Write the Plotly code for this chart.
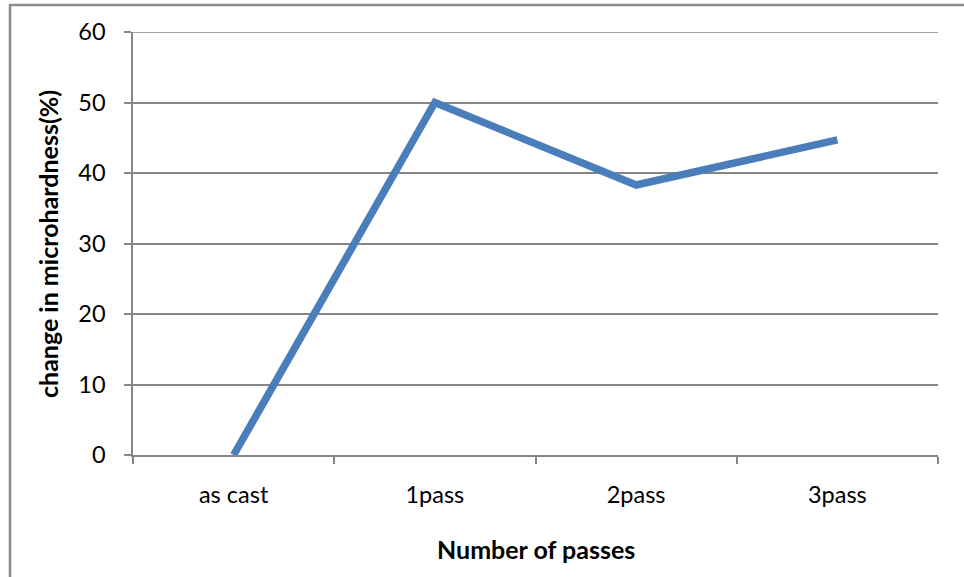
import plotly.graph_objects as go

# Microhardness change by number of passes
categories = ["as cast", "1pass", "2pass", "3pass"]
hardness_change = [0, 50, 38.3, 44.7]
y_ticks = [0, 10, 20, 30, 40, 50, 60]

W, H = 964, 577
L, R, T, B = 133, 26, 32, 122
pw, ph = W - L - R, H - T - B

def px_x(x):
    return (x - L) / pw

def px_y(y):
    return (H - B - y) / ph

font_family = "Lato, Open Sans, sans-serif"
grey = "#868686"

fig = go.Figure()
fig.add_trace(go.Scatter(
    x=categories,
    y=hardness_change,
    mode="lines",
    line=dict(color="#4A7EBB", width=7.5),
    showlegend=False,
    cliponaxis=False,
))

fig.update_layout(
    width=W, height=H,
    margin=dict(l=L, r=R, t=T, b=B),
    paper_bgcolor="white",
    plot_bgcolor="white",
    font=dict(family=font_family, color="#000000"),
    xaxis=dict(
        type="category",
        range=[-0.5, 3.5],
        showgrid=False,
        showline=True, linecolor=grey, linewidth=1.5,
        ticks="outside", tickson="boundaries", ticklen=7, tickcolor=grey, tickwidth=1.5,
        tickfont=dict(size=23.5, family=font_family),
        ticklabelstandoff=18,
        zeroline=False,
    ),
    yaxis=dict(
        range=[0, 60],
        tickvals=y_ticks,
        showgrid=True, gridcolor=grey, gridwidth=1.5,
        showline=True, linecolor=grey, linewidth=1.5,
        ticks="outside", ticklen=7, tickcolor=grey, tickwidth=1.5,
        tickfont=dict(size=23.5, family=font_family),
        ticklabelstandoff=14,
        zeroline=False,
    ),
    shapes=[
        # top gridline at 60
        dict(type="line", xref="paper", yref="y",
             x0=0, x1=1, y0=60, y1=60, line=dict(color=grey, width=1.5)),
        # outer chart border
        dict(type="rect", xref="paper", yref="paper",
             x0=px_x(10), x1=px_x(980), y0=px_y(595), y1=px_y(5),
             line=dict(color="#8c8c8c", width=2.5), fillcolor="rgba(0,0,0,0)"),
    ],
    annotations=[
        dict(text="<b>change in microhardness(%)</b>", xref="paper", yref="paper",
             x=px_x(48), y=px_y(244), textangle=-90, showarrow=False,
             font=dict(size=25, family=font_family), xanchor="center", yanchor="middle"),
        dict(text="<b>Number of passes</b>", xref="paper", yref="paper",
             x=px_x(536), y=px_y(549), showarrow=False,
             font=dict(size=25, family=font_family), xanchor="center", yanchor="middle"),
    ],
)

fig.write_html("out.html")
